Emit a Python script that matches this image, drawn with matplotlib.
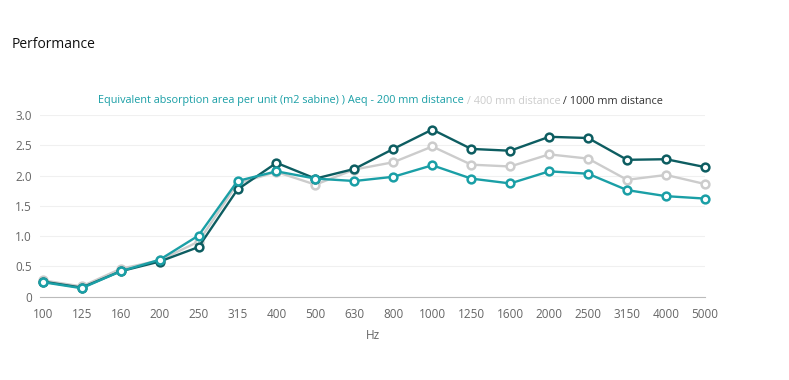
import matplotlib
matplotlib.use("Agg")
import matplotlib.pyplot as plt
from matplotlib.ticker import FixedLocator, FuncFormatter

freqs = ["100", "125", "160", "200", "250", "315", "400", "500", "630", "800",
         "1000", "1250", "1600", "2000", "2500", "3150", "4000", "5000"]
aeq_200 = [0.24, 0.14, 0.42, 0.61, 1.01, 1.91, 2.07, 1.95, 1.91, 1.98,
           2.17, 1.95, 1.87, 2.07, 2.03, 1.76, 1.66, 1.62]
aeq_400 = [0.27, 0.17, 0.46, 0.60, 0.91, 1.87, 2.06, 1.85, 2.10, 2.22,
           2.48, 2.18, 2.15, 2.35, 2.28, 1.93, 2.01, 1.86]
aeq_1000 = [0.25, 0.15, 0.42, 0.58, 0.82, 1.77, 2.21, 1.95, 2.11, 2.44,
            2.76, 2.44, 2.41, 2.64, 2.62, 2.26, 2.27, 2.14]
yticks = [0, 0.5, 1.0, 1.5, 2.0, 2.5, 3.0]

plt.rcParams['font.family'] = ['Open Sans', 'DejaVu Sans']

c200 = "#1a9fa6"
c400 = "#cccccc"
c1000 = "#0d5d61"

fig = plt.figure(figsize=(7.89, 3.80), dpi=100)
ax = fig.add_axes([40/789, 83.3/380, 665/789, 181.7/380])

x = list(range(len(freqs)))
for vals, col, z in [(aeq_400, c400, 2), (aeq_1000, c1000, 3), (aeq_200, c200, 4)]:
    ax.plot(x, vals, color=col, lw=1.7, marker="o", markersize=5.6,
            markerfacecolor="white", markeredgecolor=col, markeredgewidth=1.8, zorder=z,
            clip_on=False)

ax.set_ylim(0, 3)
ax.set_xlim(-0.07, len(freqs) - 1)
ax.yaxis.set_major_locator(FixedLocator(yticks))
ax.yaxis.set_major_formatter(FuncFormatter(lambda v, p: "0" if v == 0 else f"{v:.1f}"))
ax.set_xticks(x)
ax.set_xticklabels(freqs)
ax.grid(axis="y", color="#f0f0f0", lw=0.8)
ax.set_axisbelow(True)
for s in ["top", "right", "left"]:
    ax.spines[s].set_visible(False)
ax.spines["bottom"].set_color("#bbbbbb")
ax.spines["bottom"].set_linewidth(0.8)
ax.tick_params(axis="both", length=0, colors="#666666", labelsize=8.5)
ax.tick_params(axis="x", pad=8)
ax.tick_params(axis="y", pad=6)
ax.set_xlabel("Hz", color="#666666", fontsize=8.5, labelpad=6)

fig.text(12/789, 1 - 44/380, "Performance", fontsize=10, color="#111111", va="center", ha="left")

# subtitle with three colored parts
parts = [("Equivalent absorption area per unit (m2 sabine) ) Aeq - 200 mm distance", c200),
         (" / 400 mm distance", c400),
         (" / 1000 mm distance", "#333333")]
fig.canvas.draw()
renderer = fig.canvas.get_renderer()
texts = []
for s, c in parts:
    t = fig.text(0, 1 - 101/380, s, fontsize=7.8, color=c, va="center", ha="left")
    texts.append(t)
widths = [t.get_window_extent(renderer).width for t in texts]
total = sum(widths)
start = 380.5 - total / 2
for t, w in zip(texts, widths):
    t.set_x(start / 789)
    start += w

fig.savefig("out.png", dpi=100)
